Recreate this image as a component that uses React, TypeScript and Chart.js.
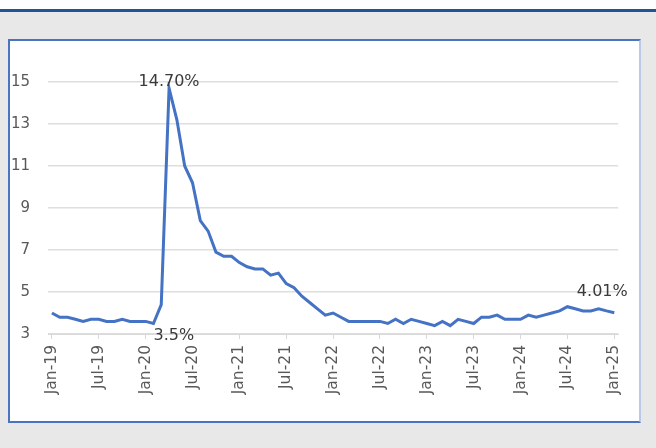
import React, { useEffect, useRef } from "react";
import { Chart, registerables } from "chart.js";

Chart.register(...registerables);

// Monthly unemployment rate (%), Jan 2019 – Jan 2025
const monthNames = ["Jan", "Feb", "Mar", "Apr", "May", "Jun", "Jul", "Aug", "Sep", "Oct", "Nov", "Dec"];
const years = [19, 20, 21, 22, 23, 24, 25];
const months: string[] = [];
for (const y of years) {
  for (let m = 0; m < 12; m++) {
    if (y === 25 && m > 0) break;
    months.push(`${monthNames[m]}-${y}`);
  }
}

const rate2019 = [4.0, 3.8, 3.8, 3.7, 3.6, 3.7, 3.7, 3.6, 3.6, 3.7, 3.6, 3.6];
const rate2020 = [3.6, 3.5, 4.4, 14.7, 13.2, 11.0, 10.2, 8.4, 7.9, 6.9, 6.7, 6.7];
const rate2021 = [6.4, 6.2, 6.1, 6.1, 5.8, 5.9, 5.4, 5.2, 4.8, 4.5, 4.2, 3.9];
const rate2022 = [4.0, 3.8, 3.6, 3.6, 3.6, 3.6, 3.6, 3.5, 3.7, 3.5, 3.7, 3.6];
const rate2023 = [3.5, 3.4, 3.6, 3.4, 3.7, 3.6, 3.5, 3.8, 3.8, 3.9, 3.7, 3.7];
const rate2024 = [3.7, 3.9, 3.8, 3.9, 4.0, 4.1, 4.3, 4.2, 4.1, 4.1, 4.2, 4.1];
const rate2025 = [4.01];

const rates = [...rate2019, ...rate2020, ...rate2021, ...rate2022, ...rate2023, ...rate2024, ...rate2025];

const yTicks = [3, 5, 7, 9, 11, 13, 15];
const labelEvery = 6;

// Annotated points: index into the series, text, and text offset from the point
const annotations = [
  { index: 15, text: "14.70%", dx: 0, dy: -6, align: "center" as CanvasTextAlign },
  { index: 13, text: "3.5%", dx: 0, dy: 12, align: "left" as CanvasTextAlign },
  { index: 72, text: "4.01%", dx: -12, dy: -21, align: "center" as CanvasTextAlign },
];

const pointLabels = {
  id: "pointLabels",
  afterDatasetsDraw(chart: Chart) {
    const ctx = chart.ctx;
    const meta = chart.getDatasetMeta(0);
    ctx.save();
    ctx.font = "16px 'DejaVu Sans'";
    ctx.fillStyle = "#3a3a3a";
    ctx.textBaseline = "middle";
    for (const a of annotations) {
      const pt = meta.data[a.index];
      if (!pt) continue;
      ctx.textAlign = a.align;
      ctx.fillText(a.text, pt.x + a.dx, pt.y + a.dy);
    }
    ctx.restore();
  },
};

export default function App() {
  const canvasRef = useRef<HTMLCanvasElement | null>(null);

  useEffect(() => {
    document.body.style.margin = "0";
    const canvas = canvasRef.current;
    if (!canvas) return;
    const chart = new Chart(canvas, {
      type: "line",
      data: {
        labels: months,
        datasets: [
          {
            data: rates,
            borderColor: "#4472c4",
            borderWidth: 3,
            pointRadius: 0,
            tension: 0,
            fill: false,
          },
        ],
      },
      options: {
        animation: false,
        responsive: false,
        maintainAspectRatio: false,
        layout: { padding: { top: 41, right: 17, left: 0, bottom: 0 } },
        plugins: {
          legend: { display: false },
          tooltip: { enabled: false },
        },
        scales: {
          x: {
            type: "category",
            offset: true,
            grid: {
              offset: false,
              drawOnChartArea: false,
              drawTicks: true,
              tickLength: 5,
              color: (c: any) => (c.index % labelEvery === 0 ? "#d9d9d9" : "rgba(0,0,0,0)"),
            },
            border: { display: true, color: "#d9d9d9", width: 1 },
            ticks: {
              autoSkip: false,
              maxRotation: 90,
              minRotation: 90,
              padding: 6,
              color: "#595959",
              font: { family: "'DejaVu Sans'", size: 15.5 },
              callback: (_v: any, i: number) => (i % labelEvery === 0 ? months[i] : ""),
            },
            afterFit: (scale: any) => {
              scale.height = 87;
            },
          },
          y: {
            min: 3,
            max: 15,
            afterBuildTicks: (scale: any) => {
              scale.ticks = yTicks.map((v) => ({ value: v }));
            },
            grid: { color: "#dedede", lineWidth: 1.5, drawTicks: false },
            border: { display: false },
            ticks: {
              padding: 18,
              color: "#595959",
              font: { family: "'DejaVu Sans'", size: 15 },
            },
            afterFit: (scale: any) => {
              scale.width = 38;
            },
          },
        },
      },
      plugins: [pointLabels],
    });
    return () => chart.destroy();
  }, []);

  return (
    <div
      style={{
        position: "relative",
        width: 656,
        height: 448,
        background: "#e8e8e8",
        overflow: "hidden",
      }}
    >
      <div style={{ position: "absolute", left: 0, top: 0, width: 656, height: 9, background: "#ffffff" }} />
      <div style={{ position: "absolute", left: 0, top: 9, width: 656, height: 3, background: "#1f5597" }} />
      <div
        style={{
          position: "absolute",
          left: 8,
          top: 39,
          width: 633,
          height: 384,
          boxSizing: "border-box",
          background: "#ffffff",
          borderTop: "2px solid #4a74c2",
          borderLeft: "2px solid #4a74c2",
          borderBottom: "2px solid #4a74c2",
          borderRight: "2px solid #b9c9e6",
        }}
      >
        <canvas ref={canvasRef} width={629} height={380} style={{ display: "block" }} />
      </div>
    </div>
  );
}
